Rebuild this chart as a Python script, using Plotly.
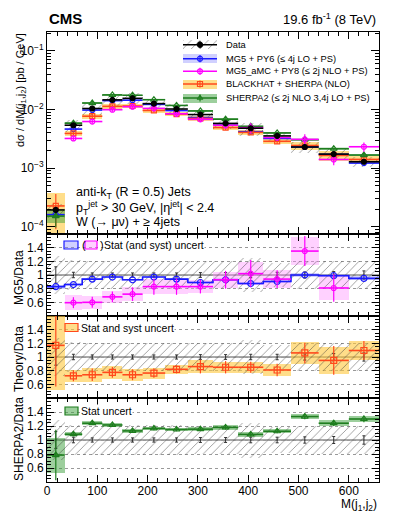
import numpy as np
import plotly.graph_objects as go

# ---- data ----------------------------------------------------------------
edges = [0, 35, 70, 110, 150, 190, 235, 280, 330, 380, 430, 485, 540, 600, 660]

data_xs = [1.95e-4, 5.4e-3, 1.04e-2, 1.46e-2, 1.55e-2, 1.26e-2, 1.02e-2,
           8.2e-3, 5.8e-3, 4.8e-3, 3.55e-3, 2.3e-3, 1.74e-3, 1.29e-3]
data_stat = [0.12, 0.04, 0.03, 0.03, 0.03, 0.03, 0.03,
             0.035, 0.035, 0.04, 0.04, 0.045, 0.05, 0.06]
data_unc = [0.28, 0.22, 0.21, 0.21, 0.21, 0.21, 0.21,
            0.2, 0.2, 0.25, 0.18, 0.2, 0.2, 0.2]

mg5_ratio = [0.83, 0.86, 0.94, 0.97, 0.93, 0.97, 0.94,
             0.89, 0.93, 0.875, 0.905, 1.0, 0.99, 0.95]
mg5_unc = [0.03, 0.02, 0.015, 0.015, 0.015, 0.015, 0.015,
           0.02, 0.02, 0.02, 0.02, 0.025, 0.025, 0.03]

amc_ratio = [0.3, 0.595, 0.60, 0.68, 0.72, 0.83, 0.83,
             0.83, 0.93, 1.02, 0.94, 1.35, 0.81, 1.8]
amc_stat = [0.05, 0.08, 0.08, 0.08, 0.1, 0.12, 0.12,
            0.1, 0.13, 0.2, 0.13, 0.22, 0.2, 0.18]
amc_syst = [0.05, 0.11, 0.1, 0.09, 0.1, 0.11, 0.11,
            0.1, 0.12, 0.17, 0.13, 0.2, 0.18, 0.18]

bh_ratio = [1.17, 0.725, 0.74, 0.775, 0.74, 0.765, 0.82,
            0.86, 0.85, 0.85, 0.81, 1.06, 0.95, 1.095]
bh_err = [0.6, 0.08, 0.09, 0.08, 0.08, 0.07, 0.06,
          0.1, 0.09, 0.08, 0.09, 0.15, 0.21, 0.14]
bh_band = [0.65, 0.085, 0.1, 0.09, 0.09, 0.08, 0.07,
           0.09, 0.08, 0.08, 0.09, 0.16, 0.2, 0.14]

sh_ratio = [0.785, 1.083, 1.24, 1.215, 1.13, 1.165, 1.15,
            1.155, 1.18, 1.08, 1.125, 1.335, 1.24, 1.30]
sh_err = [0.36, 0.03, 0.025, 0.025, 0.025, 0.025, 0.025,
          0.025, 0.03, 0.03, 0.03, 0.04, 0.04, 0.045]
sh_band = [0.25, 0.03, 0.025, 0.025, 0.025, 0.025, 0.025,
           0.025, 0.03, 0.03, 0.03, 0.04, 0.04, 0.045]

legend_labels = ["Data", "MG5 + PY6 (≤ 4j LO + PS)", "MG5_aMC + PY8 (≤ 2j NLO + PS)",
                 "BLACKHAT + SHERPA (NLO)", "SHERPA2 (≤ 2j NLO 3,4j LO + PS)"]

# ---- derived arrays --------------------------------------------------------
e = np.array(edges, float)
centers = (e[:-1] + e[1:]) / 2
halfw = (e[1:] - e[:-1]) / 2
widths = e[1:] - e[:-1]
d = np.array(data_xs)
ones = np.ones_like(d)

# ---- styles ---------------------------------------------------------------
FONT = "Liberation Sans"
BLUE, BLUE_F = "#1a1aff", "rgba(120,120,255,0.35)"
PINK, PINK_F = "#ff00ff", "rgba(255,140,255,0.4)"
ORNG, ORNG_F = "#ff4a1c", "rgba(255,200,60,0.6)"
GRN, GRN_F = "#1e7d1e", "rgba(60,160,60,0.5)"
HATCH = dict(shape="/", fgcolor="#333", bgcolor="rgba(0,0,0,0)", size=6, solidity=0.15, fillmode="overlay")

# page layout (the html body adds an 8 px margin, so the figure is shrunk by that)
PAGE_OFF = 8
VOFF = 6
W, H = 399 - PAGE_OFF, 516 - PAGE_OFF
X0, X1, Y0, Y1 = 47, 379, 30, 480          # plot frame in page pixels


def px(xp):
    return (xp - X0) / (X1 - X0)


def py(yp):
    return (Y1 - yp) / (Y1 - Y0)


fig = go.Figure()


def band(vals, rel, color, xa, ya):
    vals = np.asarray(vals)
    rel = np.asarray(rel)
    fig.add_trace(go.Bar(x=centers, y=2 * vals * rel, base=vals * (1 - rel), width=widths,
                         marker=dict(color=color, line_width=0),
                         xaxis=xa, yaxis=ya, showlegend=False, hoverinfo="skip"))


def hatch(vals, rel, xa, ya):
    vals = np.asarray(vals)
    rel = np.asarray(rel)
    fig.add_trace(go.Bar(x=centers, y=2 * vals * rel, base=vals * (1 - rel), width=widths,
                         marker=dict(color="rgba(0,0,0,0)", line_width=0, pattern=HATCH),
                         xaxis=xa, yaxis=ya, showlegend=False, hoverinfo="skip"))


def points(vals, err, color, symbol, xa, ya, size=5):
    fig.add_trace(go.Scatter(x=centers, y=vals, mode="markers",
                             marker=dict(symbol=symbol, size=size, color=color, line=dict(width=1.2, color=color)),
                             error_x=dict(type="data", array=halfw, width=0, color=color, thickness=1.6),
                             error_y=dict(type="data", array=err, width=0, color=color, thickness=1.2),
                             xaxis=xa, yaxis=ya, showlegend=False, hoverinfo="skip"))


def step(vals, color, xa, ya):
    vals = list(vals)
    fig.add_trace(go.Scatter(x=e, y=vals + [vals[-1]], mode="lines", line_shape="hv",
                             line=dict(color=color, width=1.6),
                             xaxis=xa, yaxis=ya, showlegend=False, hoverinfo="skip"))
    fig.add_trace(go.Scatter(x=centers, y=vals, mode="markers",
                             marker=dict(symbol="circle-open", size=6, color=color, line=dict(width=1.2, color=color)),
                             xaxis=xa, yaxis=ya, showlegend=False, hoverinfo="skip"))


def data_ratio(xa, ya):
    fig.add_trace(go.Scatter(x=centers, y=ones, mode="markers", marker=dict(size=1, color="#333"),
                             error_y=dict(type="data", array=data_stat, width=1.5, color="#333", thickness=1),
                             xaxis=xa, yaxis=ya, showlegend=False, hoverinfo="skip"))


# ---- top panel -------------------------------------------------------------
mg5 = d * np.array(mg5_ratio)
amc = d * np.array(amc_ratio)
bh = d * np.array(bh_ratio)
sh = d * np.array(sh_ratio)

band(mg5, mg5_unc, BLUE_F, "x", "y")
band(bh, bh_band, ORNG_F, "x", "y")
band(sh, sh_band, GRN_F, "x", "y")
hatch(d, data_unc, "x", "y")
points(mg5, mg5 * np.array(mg5_unc), BLUE, "circle-open", "x", "y")
points(bh, bh * np.array(bh_err), ORNG, "square-open", "x", "y")
points(sh, sh * np.array(sh_err), GRN, "triangle-up-open", "x", "y", size=6)
points(amc, amc * np.array(amc_stat), PINK, "circle-open", "x", "y", size=5)
points(d, d * np.array(data_stat), "black", "circle", "x", "y", size=5)

# ---- MG5 / Data ------------------------------------------------------------
band(mg5_ratio, np.array(mg5_unc) / np.array(mg5_ratio), BLUE_F, "x2", "y2")
band(amc_ratio, np.array(amc_syst) / np.array(amc_ratio), PINK_F, "x2", "y2")
hatch(ones, data_unc, "x2", "y2")
data_ratio("x2", "y2")
step(mg5_ratio, BLUE, "x2", "y2")
points(amc_ratio, amc_stat, PINK, "circle-open", "x2", "y2", size=5)

# ---- Theory / Data ---------------------------------------------------------
band(bh_ratio, np.array(bh_band) / np.array(bh_ratio), ORNG_F, "x3", "y3")
hatch(ones, data_unc, "x3", "y3")
data_ratio("x3", "y3")
points(bh_ratio, bh_err, ORNG, "square-open", "x3", "y3", size=6)

# ---- SHERPA2 / Data --------------------------------------------------------
band(sh_ratio, np.array(sh_band) / np.array(sh_ratio), GRN_F, "x4", "y4")
hatch(ones, data_unc, "x4", "y4")
data_ratio("x4", "y4")
points(sh_ratio, sh_err, GRN, "triangle-up-open", "x4", "y4", size=6)

# ---- legend glyphs drawn on a pixel-coordinate overlay axis ---------------
rows = [42.7, 56.7, 69.3, 82.0, 96.0]
leg_fill = ["hatch", BLUE_F, None, ORNG_F, GRN_F]
leg_col = ["black", BLUE, PINK, ORNG, GRN]
leg_sym = ["circle", "circle-open", "circle-open", "square-open", "triangle-up-open"]
for ry, fill, col, sym in zip(rows, leg_fill, leg_col, leg_sym):
    if fill is not None:
        mk = dict(color="rgba(0,0,0,0)", line_width=0, pattern=HATCH) if fill == "hatch" \
            else dict(color=fill, line_width=0)
        fig.add_trace(go.Bar(x=[200], y=[9], base=[ry - 4.5], width=[34], marker=mk,
                             xaxis="x5", yaxis="y5", showlegend=False, hoverinfo="skip"))
    fig.add_trace(go.Scatter(x=[183, 217], y=[ry, ry], mode="lines", line=dict(color=col, width=1.6),
                             xaxis="x5", yaxis="y5", showlegend=False, hoverinfo="skip"))
    fig.add_trace(go.Scatter(x=[200], y=[ry], mode="markers",
                             marker=dict(symbol=sym, size=5, color=col, line=dict(width=1.2, color=col)),
                             error_y=dict(type="constant", value=3.5, width=0, color=col, thickness=1.2),
                             xaxis="x5", yaxis="y5", showlegend=False, hoverinfo="skip"))

annotations = []
for ry, lab in zip(rows, legend_labels):
    annotations.append(dict(x=px(224), y=py(ry), xref="paper", yref="paper", text=lab,
                            showarrow=False, xanchor="left", yanchor="middle",
                            font=dict(size=9.3, family=FONT, color="black")))

shapes = []
# small legend boxes inside the ratio panels
for x0, x1, y0, y1, fc, lc in [(64, 78, 239, 247, BLUE_F, BLUE), (85, 97, 239, 247, PINK_F, PINK),
                               (65, 78, 321.5, 329.5, ORNG_F, ORNG), (65, 78, 405, 413, GRN_F, GRN)]:
    shapes.append(dict(type="rect", xref="x5", yref="y5", x0=x0, x1=x1, y0=y0, y1=y1,
                       fillcolor=fc, line=dict(color=lc, width=1.2), layer="above"))

for txt, xx, yy in [("(", 79.5, 243), (")", 97.5, 243)]:
    annotations.append(dict(x=px(xx), y=py(yy), xref="paper", yref="paper", text=txt, showarrow=False,
                            xanchor="left", yanchor="middle", font=dict(size=11, family=FONT, color="black")))
for txt, xx, yy in [("Stat (and syst) uncert", 102.5, 243), ("Stat and syst uncert", 80, 325.5),
                    ("Stat uncert", 80, 409)]:
    annotations.append(dict(x=px(xx), y=py(yy), xref="paper", yref="paper", text=txt, showarrow=False,
                            xanchor="left", yanchor="middle", bgcolor="white", borderpad=0,
                            font=dict(size=10.5, family=FONT, color="black")))

# reference line at 1 in ratio panels
for ax in ["2", "3", "4"]:
    shapes.append(dict(type="line", xref=f"x{ax} domain", yref=f"y{ax}", x0=0, x1=1, y0=1, y1=1,
                       line=dict(color="#555", width=1.2), layer="below"))

# titles and labels
labels = [
    dict(x=px(47), y=py(16), text="<b>CMS</b>", xanchor="left", font=dict(size=15)),
    dict(x=px(378), y=py(17), text="19.6 fb<sup>-1</sup> (8 TeV)", xanchor="right", font=dict(size=13)),
    dict(x=px(74), y=py(191), text="anti-k<sub>T</sub> (R = 0.5) Jets", xanchor="left", font=dict(size=12.5)),
    dict(x=px(74), y=py(205.5), text="p<sub>T</sub><sup>jet</sup> > 30 GeV, |η<sup>jet</sup>| < 2.4",
         xanchor="left", font=dict(size=12.5)),
    dict(x=px(74), y=py(219.5), text="W (→ μν) + ≥ 4jets", xanchor="left", font=dict(size=12.5)),
    dict(x=px(12), y=py(88), text="dσ / dM(j<sub>1</sub>,j<sub>2</sub>) [pb / GeV]", textangle=-90,
         font=dict(size=11)),
    dict(x=px(10), y=py(276), text="MG5/Data", textangle=-90, font=dict(size=12)),
    dict(x=px(10), y=py(357), text="Theory/Data", textangle=-90, font=dict(size=12)),
    dict(x=px(10), y=py(437), text="SHERPA2/Data", textangle=-90, font=dict(size=12)),
    dict(x=px(379), y=py(503), text="M(j<sub>1</sub>,j<sub>2</sub>)", xanchor="right", font=dict(size=12)),
]
for a in labels:
    a.update(xref="paper", yref="paper", showarrow=False, yanchor="middle")
    a["font"].update(family=FONT, color="black")
annotations += labels

# ---- axes -------------------------------------------------------------------
common = dict(showline=True, linecolor="black", linewidth=1, mirror="allticks", ticks="inside",
              tickcolor="black", tickfont=dict(size=12, family=FONT, color="black"), zeroline=False,
              automargin=False)
xcommon = dict(common, range=[0, 660], tick0=0, dtick=100, ticklen=7, showgrid=False,
               minor=dict(ticks="inside", dtick=20, ticklen=4, tickcolor="black"))
rcommon = dict(common, range=[0.4, 1.6], tickvals=[0.6, 0.8, 1.0, 1.2, 1.4],
               ticktext=["0.6", "0.8", "1", "1.2", "1.4"], ticklen=7,
               showgrid=True, gridcolor="#999", griddash="dot", gridwidth=1,
               minor=dict(ticks="inside", dtick=0.05, tick0=0, ticklen=4, tickcolor="black", showgrid=False))

d1 = [py(232), 1.0]
d2 = [py(314), py(232)]
d3 = [py(396), py(314)]
d4 = [0.0, py(396)]

fig.update_layout(
    width=W, height=H,
    margin=dict(l=X0 - PAGE_OFF, r=W - (X1 - PAGE_OFF), t=Y0 - VOFF, b=H - (Y1 - VOFF),
                autoexpand=False),
    paper_bgcolor="white", plot_bgcolor="rgba(0,0,0,0)",
    barmode="overlay", bargap=0, showlegend=False,
    font=dict(family=FONT, color="black"),
    xaxis=dict(xcommon, anchor="y", showticklabels=False),
    yaxis=dict(common, type="log", domain=d1, anchor="x", range=[-4.12, -0.68],
               tickvals=[1e-4, 1e-3, 1e-2, 1e-1],
               ticktext=["10<sup>−4</sup>", "10<sup>−3</sup>", "10<sup>−2</sup>", "10<sup>−1</sup>"],
               ticklen=8, showgrid=False,
               minor=dict(ticks="inside", dtick="D1", ticklen=4, tickcolor="black")),
    xaxis2=dict(xcommon, anchor="y2", matches="x", showticklabels=False),
    yaxis2=dict(rcommon, domain=d2, anchor="x2"),
    xaxis3=dict(xcommon, anchor="y3", matches="x", showticklabels=False),
    yaxis3=dict(rcommon, domain=d3, anchor="x3"),
    xaxis4=dict(xcommon, anchor="y4", matches="x", ticklabelstandoff=-2),
    yaxis4=dict(rcommon, domain=d4, anchor="x4"),
    xaxis5=dict(domain=[0, 1], range=[X0, X1], visible=False, anchor="y5", fixedrange=True),
    yaxis5=dict(domain=[0, 1], range=[Y1, Y0], visible=False, anchor="x5", fixedrange=True),
    annotations=annotations,
    shapes=shapes,
)

fig.write_html("out.html")
